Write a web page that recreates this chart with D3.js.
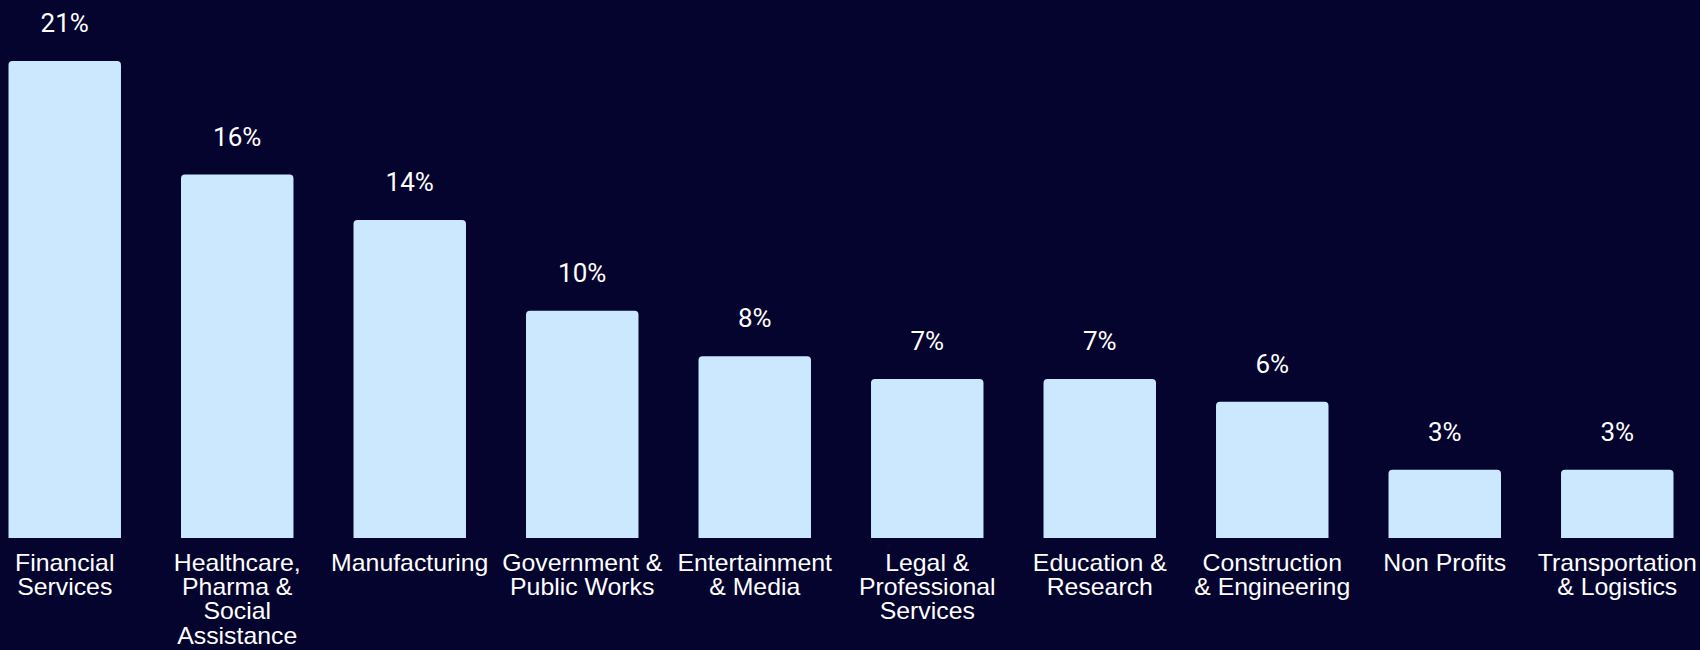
<!DOCTYPE html>
<html>
<head>
<meta charset="utf-8">
<script src="https://cdn.jsdelivr.net/npm/d3@7"></script>
<style>
  html, body { margin: 0; padding: 0; background: #05042e; }
  svg { display: block; }
</style>
</head>
<body>
<svg id="chart" width="1700" height="650"></svg>
<script>
// Share of respondents by industry (%)
const categories = [
  ["Financial", "Services"],
  ["Healthcare,", "Pharma &", "Social", "Assistance"],
  ["Manufacturing"],
  ["Government &", "Public Works"],
  ["Entertainment", "& Media"],
  ["Legal &", "Professional", "Services"],
  ["Education &", "Research"],
  ["Construction", "& Engineering"],
  ["Non Profits"],
  ["Transportation", "& Logistics"]
];
const values = [21, 16, 14, 10, 8, 7, 7, 6, 3, 3];

const svg = d3.select("#chart");
const W = 1700, H = 650;
const baseY = 538;

svg.append("rect").attr("width", W).attr("height", H).attr("fill", "#05042e");

const idx = d3.range(values.length);
const x = d3.scaleBand()
  .domain(idx)
  .range([8.5, 1673.5])
  .paddingInner(0.348)
  .paddingOuter(0);

const y = d3.scaleLinear()
  .domain([0, 21])
  .range([baseY, 61]);

// bar with rounded top corners only
function barPath(x0, y0, w, h, r) {
  r = Math.min(r, w / 2, h);
  return `M${x0},${y0 + h}V${y0 + r}Q${x0},${y0} ${x0 + r},${y0}` +
         `H${x0 + w - r}Q${x0 + w},${y0} ${x0 + w},${y0 + r}V${y0 + h}Z`;
}

svg.append("g").selectAll("path")
  .data(idx)
  .join("path")
  .attr("d", i => barPath(x(i), y(values[i]), x.bandwidth(), baseY - y(values[i]), 4))
  .attr("fill", "#cce8fe");

// value labels
svg.append("g").selectAll("text")
  .data(idx)
  .join("text")
  .attr("x", i => x(i) + x.bandwidth() / 2)
  .attr("y", i => y(values[i]) - 29)
  .attr("text-anchor", "middle")
  .attr("fill", "#ffffff")
  .style("font-family", "Roboto, 'Noto Sans', sans-serif")
  .style("font-size", "26px")
  .text(i => values[i] + "%");

// category labels
const lbl = svg.append("g").selectAll("g")
  .data(idx)
  .join("g")
  .attr("transform", i => `translate(${x(i) + x.bandwidth() / 2},571) scale(1.08,1)`);

lbl.append("text")
  .attr("text-anchor", "middle")
  .attr("fill", "#ffffff")
  .style("font-family", "'Liberation Sans', Arial, sans-serif")
  .style("font-size", "23px")
  .selectAll("tspan")
  .data(i => categories[i])
  .join("tspan")
  .attr("x", 0)
  .attr("y", (d, k) => k * 24.2)
  .text(d => d);
</script>
</body>
</html>
